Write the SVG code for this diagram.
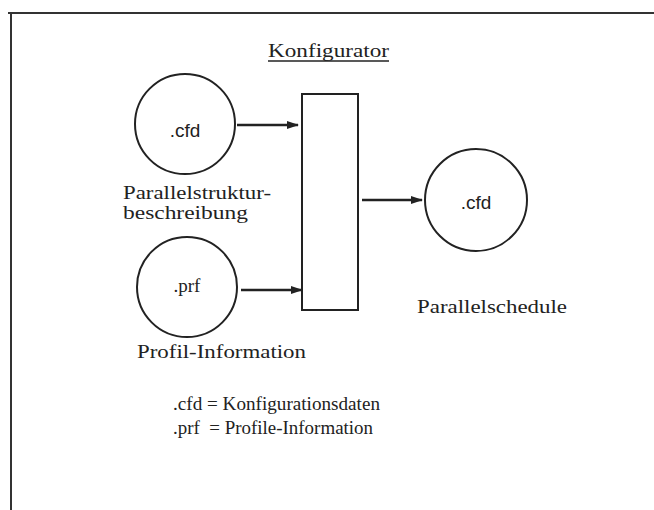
<svg xmlns="http://www.w3.org/2000/svg" width="654" height="510" viewBox="0 0 654 510">
<defs>
<style>
.frame{fill:none;stroke:#333;stroke-width:2}
.node{fill:#fff;stroke:#222;stroke-width:2}
.conn{fill:none;stroke:#222;stroke-width:2.5}
text{font-family:"Liberation Serif","DejaVu Serif",serif;fill:#222}
.lbl{font-size:19px}
.in{font-size:19px;font-family:"Liberation Sans",Arial,sans-serif;text-anchor:middle}
.leg{font-size:18px}
</style>
<marker id="ah" viewBox="0 0 12 10" refX="11" refY="5" markerWidth="5" markerHeight="4" orient="auto" markerUnits="strokeWidth">
<path d="M0,1 L12,5 L0,9 z" fill="#222"/>
</marker>
</defs>
<rect width="654" height="510" fill="#fff"/>
<g id="frame">
<line class="frame" x1="8" y1="13" x2="654" y2="13"/>
<line class="frame" x1="11" y1="13" x2="11" y2="510"/>
</g>
<g id="title">
<text class="lbl" x="268" y="57" textLength="121" lengthAdjust="spacingAndGlyphs">Konfigurator</text>
<line x1="268" y1="61" x2="389" y2="61" stroke="#222" stroke-width="1.5"/>
</g>
<g id="cfd-in">
<circle class="node" cx="185" cy="124" r="50"/>
<text class="in" x="185" y="137">.cfd</text>
<text class="lbl" x="123" y="199" textLength="148" lengthAdjust="spacingAndGlyphs">Parallelstruktur-</text>
<text class="lbl" x="123" y="219" textLength="125" lengthAdjust="spacingAndGlyphs">beschreibung</text>
</g>
<g id="prf-in">
<circle class="node" cx="187" cy="287" r="50"/>
<text class="lbl" x="187" y="292" text-anchor="middle">.prf</text>
<text class="lbl" x="137" y="358" textLength="169" lengthAdjust="spacingAndGlyphs">Profil-Information</text>
</g>
<g id="konfigurator">
<rect class="node" x="302" y="94" width="56" height="216"/>
</g>
<g id="cfd-out">
<circle class="node" cx="476" cy="200" r="51"/>
<text class="in" x="476" y="209">.cfd</text>
<text class="lbl" x="417" y="313" textLength="150" lengthAdjust="spacingAndGlyphs">Parallelschedule</text>
</g>
<g id="connectors">
<line class="conn" x1="237" y1="125" x2="298" y2="125" marker-end="url(#ah)"/>
<line class="conn" x1="241" y1="290" x2="302" y2="290" marker-end="url(#ah)"/>
<line class="conn" x1="362" y1="200" x2="422" y2="200" marker-end="url(#ah)"/>
</g>
<g id="legend">
<text class="leg" x="173" y="410" textLength="207" lengthAdjust="spacingAndGlyphs">.cfd = Konfigurationsdaten</text>
<text class="leg" x="173" y="434" xml:space="preserve" textLength="200" lengthAdjust="spacingAndGlyphs">.prf  = Profile-Information</text>
</g>
</svg>
